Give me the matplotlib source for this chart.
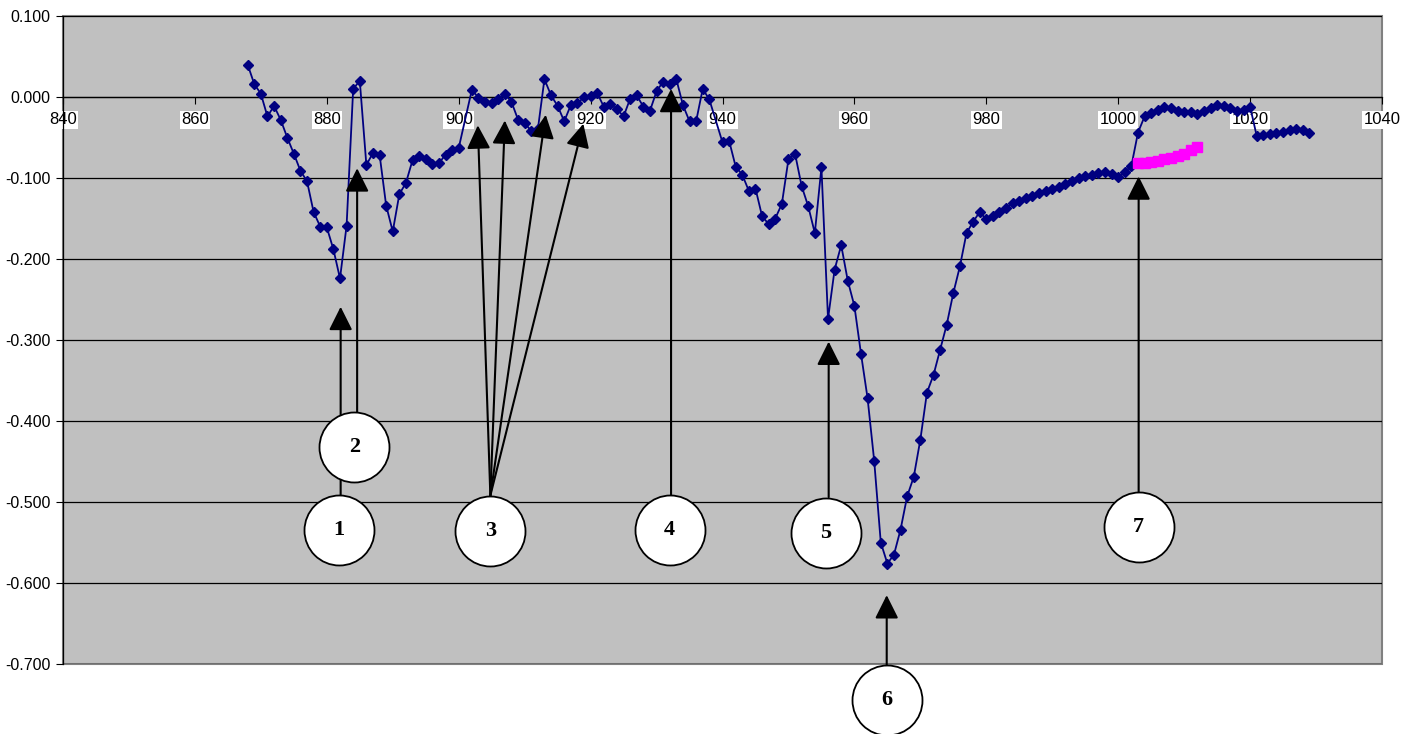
import numpy as np
import matplotlib.pyplot as plt
from matplotlib.patches import Rectangle

plt.rcParams['font.family'] = ['Liberation Sans', 'DejaVu Sans']
plt.rcParams['axes.unicode_minus'] = False

# main series (navy diamonds)
x_blue = (list(range(868, 901)) + list(range(902, 939)) +
          list(range(940, 1021)) + list(range(1021, 1030)))
y_blue = [
    0.040, 0.016, 0.004, -0.024, -0.011, -0.028, -0.050, -0.070, -0.091, -0.104,
    -0.142, -0.160, -0.161, -0.188, -0.224, -0.159, 0.010, 0.020, -0.084, -0.069,
    -0.071, -0.134, -0.166, -0.120, -0.106, -0.078, -0.073, -0.077, -0.083, -0.082,
    -0.071, -0.065, -0.063,
    # 902 - 938
    0.009, -0.001, -0.006, -0.008, -0.002, 0.004, -0.006, -0.028, -0.032, -0.042,
    -0.040, 0.022, 0.002, -0.011, -0.030, -0.010, -0.008, 0.000, 0.001, 0.005,
    -0.012, -0.009, -0.015, -0.024, -0.002, 0.002, -0.012, -0.017, 0.007, 0.019,
    0.016, 0.022, -0.010, -0.030, -0.030, 0.010, -0.003,
    # 940 - 1020
    -0.056, -0.054, -0.086, -0.096, -0.116, -0.113, -0.147, -0.157, -0.150, -0.132,
    -0.077, -0.070, -0.110, -0.135, -0.168, -0.087, -0.274, -0.213, -0.183, -0.227,
    -0.258, -0.317, -0.372, -0.449, -0.550, -0.576, -0.565, -0.534, -0.493, -0.469,
    -0.423, -0.365, -0.343, -0.312, -0.281, -0.242, -0.209, -0.168, -0.154, -0.142,
    -0.151, -0.147, -0.142, -0.137, -0.131, -0.128, -0.125, -0.122, -0.119, -0.116,
    -0.114, -0.111, -0.107, -0.104, -0.100, -0.098, -0.096, -0.094, -0.092, -0.095,
    -0.099, -0.093, -0.085, -0.044, -0.024, -0.020, -0.016, -0.012, -0.013, -0.017,
    -0.018, -0.018, -0.021, -0.017, -0.013, -0.010, -0.011, -0.013, -0.017, -0.016,
    -0.012,
    # 1021 - 1029
    -0.048, -0.047, -0.046, -0.045, -0.043, -0.041, -0.040, -0.041, -0.044,
]

# second series (magenta squares)
x_pink = list(range(1003, 1013))
y_pink = [-0.082, -0.081, -0.080, -0.079, -0.077, -0.075, -0.073, -0.070, -0.066, -0.062]

xticks = list(range(840, 1041, 20))
yticks = [-0.7, -0.6, -0.5, -0.4, -0.3, -0.2, -0.1, 0.0, 0.1]

# numbered callouts: label, circle centre, arrow tail, arrow tips
callouts = [
    ('1', (881.8, -0.535), (882.1, -0.491), [(882.1, -0.259)]),
    ('2', (884.2, -0.432), (884.6, -0.389), [(884.6, -0.088)]),
    ('3', (904.8, -0.536), (904.8, -0.492), [(902.9, -0.035), (907.0, -0.029),
                                             (913.2, -0.022), (918.9, -0.033)]),
    ('4', (932.0, -0.535), (932.2, -0.493), [(932.2, 0.010)]),
    ('5', (955.7, -0.538), (956.1, -0.494), [(956.1, -0.302)]),
    ('6', (964.9, -0.744), (964.9, -0.701), [(964.9, -0.615)]),
    ('7', (1003.1, -0.531), (1003.1, -0.489), [(1003.1, -0.098)]),
]

fig = plt.figure(figsize=(14.18, 7.34), dpi=100)
ax = fig.add_axes([63/1418, 1-664/734, 1319/1418, 648/734])
ax.set_facecolor('#C0C0C0')
ax.set_xlim(840, 1040)
ax.set_ylim(-0.7, 0.1)

ax.set_yticks(yticks)
ax.set_yticklabels(['%.3f' % v for v in yticks])
ax.set_xticks(xticks)
ax.set_xticklabels([str(v) for v in xticks])
ax.yaxis.grid(True, color='black', lw=0.9)
ax.set_axisbelow(True)

for s in ['top', 'right']:
    ax.spines[s].set_visible(False)
ax.spines['bottom'].set_position(('data', 0))
ax.spines['bottom'].set_linewidth(0.9)
ax.spines['left'].set_linewidth(0.9)
ax.add_patch(Rectangle((0, 0), 1, 1, transform=ax.transAxes, fill=False,
                       edgecolor='#808080', lw=1.5, zorder=0.5, clip_on=False))

ax.tick_params(axis='x', direction='out', length=5, pad=6, labelsize=12)
ax.tick_params(axis='y', direction='out', length=5, pad=4, labelsize=11.5)
for lbl in ax.get_xticklabels():
    lbl.set_bbox(dict(facecolor='white', edgecolor='none', pad=1))

ax.plot(x_blue, y_blue, color='#000080', lw=1.3, marker='D', ms=5.5, zorder=3)
ax.plot(x_pink, y_pink, color='#FF00FF', lw=1.3, marker='s', ms=7, zorder=3.5)

for num, centre, tail, tips in callouts:
    for tip in tips:
        ax.annotate('', xy=tip, xytext=tail, annotation_clip=False, zorder=4,
                    arrowprops=dict(arrowstyle='-|>', color='black', lw=1.5,
                                    mutation_scale=36, shrinkA=0, shrinkB=0))
    ax.scatter([centre[0]], [centre[1]], s=(70*0.72)**2, facecolor='white',
               edgecolor='black', lw=1.3, zorder=5, clip_on=False)
    ax.text(centre[0], centre[1], num, ha='center', va='center', fontsize=16,
            fontweight='bold', family='Liberation Serif', zorder=6)

fig.savefig('out.png', dpi=100)
